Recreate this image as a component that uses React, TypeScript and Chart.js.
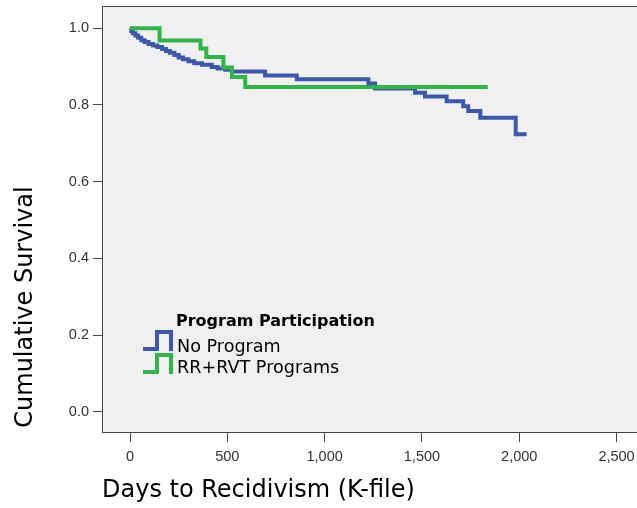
import { useEffect, useRef } from "react"
import { Chart, registerables } from "chart.js"
import type { Plugin } from "chart.js"

Chart.register(...registerables)

const groups = ["No Program", "RR+RVT Programs"]
const groupColors = ["#3d57ad", "#2fb548"]

// Kaplan-Meier steps: day at which survival drops to the value
const noProgramDays = [
  0, 6, 15, 28, 42, 58, 75, 95, 118, 140, 165, 185, 205, 228, 250, 272, 300, 330, 370, 420,
  450, 490, 524, 694, 857, 1225, 1259, 1465, 1516, 1627, 1712, 1738, 1800, 1982, 2038,
]
const noProgramSurvival = [
  1.0, 0.993, 0.987, 0.981, 0.975, 0.969, 0.964, 0.959, 0.955, 0.951, 0.946, 0.941, 0.936, 0.93,
  0.924, 0.919, 0.914, 0.909, 0.905, 0.899, 0.895, 0.892, 0.887, 0.877, 0.867, 0.856, 0.843,
  0.832, 0.822, 0.81, 0.797, 0.784, 0.767, 0.724, 0.724,
]

const programDays = [0, 152, 362, 392, 480, 524, 592, 1838]
const programSurvival = [1.0, 0.968, 0.947, 0.925, 0.898, 0.873, 0.847, 0.847]

const xTicks = [0, 500, 1000, 1500, 2000, 2500]
const yTicks = [0, 0.2, 0.4, 0.6, 0.8, 1.0]

const xTitle = "Days to Recidivism (K-file)"
const yTitle = "Cumulative Survival"
const legendTitle = "Program Participation"

const axisColor = "#444444"

const plotBackground: Plugin<"line"> = {
  id: "plotBackground",
  beforeDraw(chart) {
    const { ctx, chartArea: a } = chart
    ctx.save()
    ctx.fillStyle = "#f0f0f0"
    ctx.fillRect(a.left, a.top, a.right - a.left, a.bottom - a.top)
    ctx.strokeStyle = axisColor
    ctx.lineWidth = 1
    ctx.strokeRect(a.left + 0.5, a.top + 0.5, a.right - a.left, a.bottom - a.top - 1)
    ctx.restore()
  },
}

const yAxisTitle: Plugin<"line"> = {
  id: "yAxisTitle",
  afterDraw(chart) {
    const { ctx } = chart
    ctx.save()
    ctx.translate(32, 307)
    ctx.rotate(-Math.PI / 2)
    ctx.font = '24px "DejaVu Sans"'
    ctx.fillStyle = "#000000"
    ctx.textAlign = "center"
    ctx.textBaseline = "alphabetic"
    ctx.fillText(yTitle, 0, 0)
    ctx.restore()
  },
}

const stepLegend: Plugin<"line"> = {
  id: "stepLegend",
  afterDraw(chart) {
    const { ctx, chartArea: a } = chart
    const x0 = a.left
    ctx.save()
    ctx.fillStyle = "#000000"
    ctx.textAlign = "left"
    ctx.textBaseline = "alphabetic"
    ctx.font = 'bold 16px "DejaVu Sans"'
    ctx.fillText(legendTitle, x0 + 74, 326)
    ctx.font = '17.6px "DejaVu Sans"'
    groups.forEach((label, i) => {
      const base = 332 + i * 23
      ctx.strokeStyle = groupColors[i]
      ctx.lineWidth = 4
      ctx.lineJoin = "miter"
      ctx.lineCap = "butt"
      ctx.beginPath()
      ctx.moveTo(x0 + 41, base + 17)
      ctx.lineTo(x0 + 55, base + 17)
      ctx.lineTo(x0 + 55, base)
      ctx.lineTo(x0 + 69, base)
      ctx.lineTo(x0 + 69, base + 19)
      ctx.stroke()
      ctx.fillText(label, x0 + 75, 352 + i * 21)
    })
    ctx.restore()
  },
}

export default function App() {
  const chartRef = useRef<HTMLCanvasElement>(null)
  const chartInstance = useRef<Chart | null>(null)

  useEffect(() => {
    if (!chartRef.current) return
    if (chartInstance.current) {
      chartInstance.current.destroy()
    }
    const ctx = chartRef.current.getContext("2d")
    if (!ctx) return

    chartInstance.current = new Chart(ctx, {
      type: "line",
      data: {
        datasets: [
          {
            label: groups[0],
            data: noProgramDays.map((d, i) => ({ x: d, y: noProgramSurvival[i] })),
            borderColor: groupColors[0],
            order: 1,
          },
          {
            label: groups[1],
            data: programDays.map((d, i) => ({ x: d, y: programSurvival[i] })),
            borderColor: groupColors[1],
            order: 0,
          },
        ],
      },
      options: {
        animation: false,
        responsive: true,
        maintainAspectRatio: false,
        layout: { padding: { top: 6, right: 10, left: 0, bottom: 0 } },
        elements: {
          line: {
            stepped: true,
            borderWidth: 4,
            fill: false,
            borderCapStyle: "butt",
            borderJoinStyle: "miter",
          },
          point: { radius: 0, hoverRadius: 0 },
        },
        plugins: {
          legend: { display: false },
          tooltip: { enabled: false },
        },
        scales: {
          x: {
            type: "linear",
            min: -144,
            max: 2672,
            afterFit: (scale) => {
              scale.height = 75
              scale.paddingLeft = 0
              scale.paddingRight = 0
            },
            afterBuildTicks: (scale) => {
              scale.ticks = xTicks.map((v) => ({ value: v }))
            },
            grid: {
              drawOnChartArea: false,
              drawTicks: true,
              tickLength: 9,
              color: axisColor,
            },
            border: { display: false },
            ticks: {
              padding: 6,
              color: "#333333",
              font: { family: '"Liberation Sans"', size: 14.5 },
              callback: (v) => Number(v).toLocaleString("en-US"),
            },
            title: {
              display: true,
              text: xTitle,
              align: "start",
              color: "#000000",
              font: { family: '"DejaVu Sans"', size: 24 },
              padding: { top: 0, bottom: 3 },
            },
          },
          y: {
            type: "linear",
            min: -0.055,
            max: 1.058,
            afterFit: (scale) => {
              scale.width = 102
              scale.paddingTop = 0
              scale.paddingBottom = 0
            },
            afterBuildTicks: (scale) => {
              scale.ticks = yTicks.map((v) => ({ value: v }))
            },
            grid: {
              drawOnChartArea: false,
              drawTicks: true,
              tickLength: 9,
              color: axisColor,
            },
            border: { display: false },
            ticks: {
              padding: 4,
              color: "#333333",
              font: { family: '"Liberation Sans"', size: 14.5 },
              callback: (v) => Number(v).toFixed(1),
            },
          },
        },
      },
      plugins: [plotBackground, yAxisTitle, stepLegend],
    })

    return () => {
      if (chartInstance.current) {
        chartInstance.current.destroy()
        chartInstance.current = null
      }
    }
  }, [])

  return (
    <div
      style={{
        position: "fixed",
        left: 0,
        top: 0,
        width: 637,
        height: 508,
        overflow: "hidden",
        background: "#ffffff",
      }}
    >
      <div style={{ position: "relative", width: 660, height: 508 }}>
        <canvas ref={chartRef} />
      </div>
    </div>
  )
}
